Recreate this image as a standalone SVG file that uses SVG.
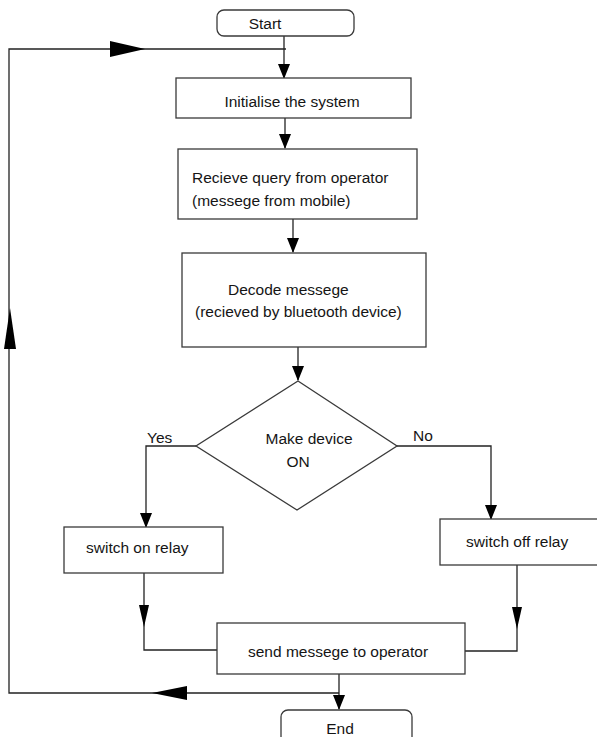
<svg xmlns="http://www.w3.org/2000/svg" width="597" height="737" viewBox="0 0 597 737">
<style>
.box{fill:#fff;stroke:#3a3a3a;stroke-width:1.3}
.ln{fill:none;stroke:#222;stroke-width:1.3}
.ah{fill:#000;stroke:none}
text{font-family:"Liberation Sans",Arial,sans-serif;font-size:15.5px;fill:#151515}
</style>
<defs>
<path id="adown" d="M-6,-15 L6,-15 L0,0 Z"/>
<path id="amid" d="M-5,0 L5,0 L0,22 Z"/>
</defs>
<rect width="597" height="737" fill="#fff"/>
<g id="connectors">
<path class="ln" d="M284,36 V78"/>
<use href="#adown" class="ah" x="284" y="79"/>
<path class="ln" d="M285,118 V148"/>
<use href="#adown" class="ah" x="285" y="149"/>
<path class="ln" d="M293,219 V252"/>
<use href="#adown" class="ah" x="293" y="253"/>
<path class="ln" d="M298,347 V380"/>
<use href="#adown" class="ah" x="298" y="381"/>
<path class="ln" d="M196,446 H146 V527"/>
<use href="#adown" class="ah" x="146" y="528"/>
<path class="ln" d="M397,446 H491 V519"/>
<use href="#adown" class="ah" x="491" y="520"/>
<path class="ln" d="M144,573 V650 H217"/>
<use href="#amid" class="ah" x="144" y="605"/>
<path class="ln" d="M517,565 V651 H465"/>
<use href="#amid" class="ah" x="517" y="607"/>
<path class="ln" d="M339,674 V709"/>
<use href="#adown" class="ah" x="339" y="710"/>
<path class="ln" d="M339,693 H9 V49 H286"/>
<path class="ah" d="M152,693 L187,686 L187,700 Z"/>
<path class="ah" d="M10,308 L4,349 L16,349 Z"/>
<path class="ah" d="M145,49 L110,41 L110,57 Z"/>
</g>
<g id="start">
<rect class="box" x="217" y="10" width="137" height="26" rx="7"/>
<text x="265" y="29" text-anchor="middle">Start</text>
</g>
<g id="init">
<rect class="box" x="176" y="78" width="235" height="40"/>
<text x="292" y="107" text-anchor="middle">Initialise the system</text>
</g>
<g id="receive">
<rect class="box" x="178" y="149" width="239" height="70"/>
<text x="192" y="183">Recieve query from operator</text>
<text x="192" y="206">(messege from mobile)</text>
</g>
<g id="decode">
<rect class="box" x="182" y="253" width="244" height="94"/>
<text x="228" y="295">Decode messege</text>
<text x="195" y="317">(recieved by bluetooth device)</text>
</g>
<g id="decision">
<path class="box" d="M298,381 L397,446 L297,510 L196,446 Z"/>
<text x="309" y="444" text-anchor="middle">Make device</text>
<text x="298" y="467" text-anchor="middle">ON</text>
<text x="147" y="443">Yes</text>
<text x="413" y="441">No</text>
</g>
<g id="switch-on">
<rect class="box" x="64" y="527" width="159" height="46"/>
<text x="86" y="553">switch on relay</text>
</g>
<g id="switch-off">
<rect class="box" x="440" y="519" width="170" height="46"/>
<text x="466" y="547">switch off relay</text>
</g>
<g id="send">
<rect class="box" x="217" y="623" width="248" height="51"/>
<text x="248" y="657">send messege to operator</text>
</g>
<g id="end">
<rect class="box" x="281" y="710" width="131" height="40" rx="7"/>
<text x="340" y="734" text-anchor="middle">End</text>
</g>
</svg>
